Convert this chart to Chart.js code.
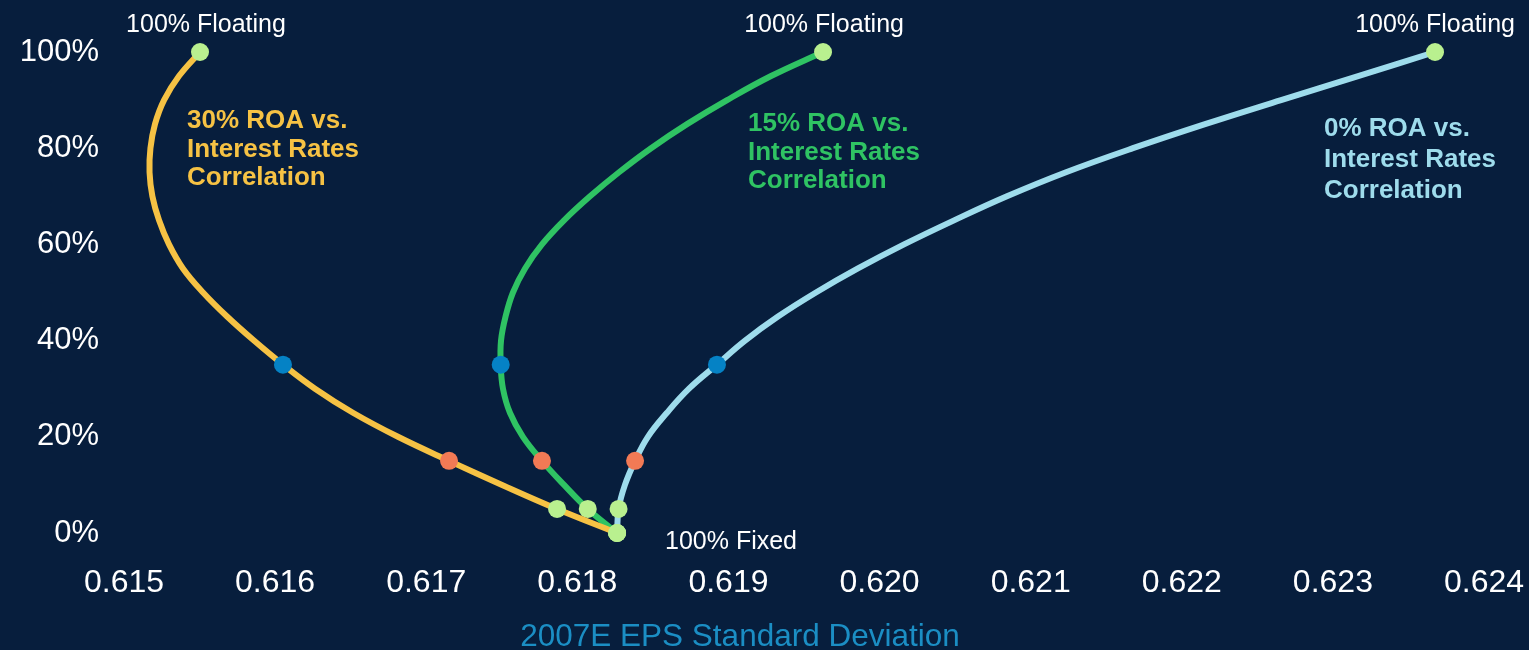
<!DOCTYPE html>
<html>
<head>
<meta charset="utf-8">
<script src="https://cdn.jsdelivr.net/npm/chart.js@4"></script>
<style>
  html, body { margin: 0; padding: 0; background: #071e3d; }
  #wrap { width: 1529px; height: 650px; position: relative; }
</style>
</head>
<body>
<div id="wrap"><canvas id="c"></canvas></div>
<script>
// Share of floating-rate debt (%)
const floatingPct = [100,95,90,85,80,75,70,65,60,55,50,45,40,35,30,25,20,15,10,5,0];
// 2007E EPS standard deviation per series
const eps30 = [0.615503,0.615364,0.615265,0.615205,0.615175,0.615169,0.615188,0.615232,0.615298,0.615390,0.615523,0.615682,0.615860,0.616052,0.616264,0.616515,0.616813,0.617151,0.617502,0.617866,0.618263];
const eps15 = [0.619626,0.619282,0.618991,0.618726,0.618488,0.618276,0.618084,0.617912,0.617766,0.617654,0.617574,0.617525,0.617495,0.617493,0.617508,0.617554,0.617640,0.617766,0.617912,0.618069,0.618263];
const eps0  = [0.623676,0.623167,0.622657,0.622154,0.621677,0.621234,0.620843,0.620493,0.620162,0.619857,0.619579,0.619328,0.619110,0.618924,0.618739,0.618593,0.618467,0.618382,0.618315,0.618273,0.618263];
const seriesNames = ['30% ROA vs. Interest Rates Correlation','15% ROA vs. Interest Rates Correlation','0% ROA vs. Interest Rates Correlation'];
const xTickLabels = ['0.615','0.616','0.617','0.618','0.619','0.620','0.621','0.622','0.623','0.624'];
const yTickLabels = ['0%','20%','40%','60%','80%','100%'];
const floatingLabel = '100% Floating';
const fixedLabel = '100% Fixed';
const xTitle = '2007E EPS Standard Deviation';

const COLORS = { yellow:'#f6c244', green:'#2fc363', light:'#9edcec', orange:'#f27a55', blue:'#0582c5', lime:'#b9f08f', title:'#1b8ec4' };
const FONT = "'Liberation Sans', Arial, sans-serif";

function pts(xs){ return xs.map((x,i)=>({x:x, y:floatingPct[i]})); }
function markerColor(ctx){
  const v = ctx.raw ? ctx.raw.y : null;
  if (v === 35) return COLORS.blue;
  if (v === 15) return COLORS.orange;
  return COLORS.lime;
}
function markerRadius(ctx){
  const v = ctx.raw ? ctx.raw.y : null;
  return [100,35,15,5,0].includes(v) ? 9 : 0;
}
function ds(label, xs, color){
  return {
    label, data: pts(xs), showLine: true, borderColor: color, borderWidth: 6,
    tension: 0.4, fill: false, clip: false,
    pointRadius: markerRadius, pointHoverRadius: markerRadius,
    pointBackgroundColor: markerColor, pointBorderWidth: 0
  };
}

const textPlugin = {
  id: 'texts',
  afterDraw(chart){
    const c = chart.ctx, xs = chart.scales.x;
    c.save();
    c.fillStyle = '#ffffff';
    c.font = '25px ' + FONT;
    c.textAlign = 'center';
    c.textBaseline = 'alphabetic';
    const shifts = [6, 1, 0];
    [eps30, eps15, eps0].forEach((arr, i) => {
      c.fillText(floatingLabel, xs.getPixelForValue(arr[0]) + shifts[i], 32);
    });
    c.textAlign = 'left';
    c.fillText(fixedLabel, 665, 549);

    c.font = 'bold 26px ' + FONT;
    const blocks = [
      {color: COLORS.yellow, x: 187, y: [128,157,185]},
      {color: COLORS.green, x: 748, y: [131,160,188]},
      {color: COLORS.light, x: 1324, y: [136,167,198]}
    ];
    blocks.forEach((b,i) => {
      c.fillStyle = b.color;
      const words = seriesNames[i];
      const lines = [words.split(' ').slice(0,3).join(' '), 'Interest Rates', 'Correlation'];
      lines.forEach((t,j) => c.fillText(t, b.x, b.y[j]));
    });

    c.fillStyle = COLORS.title;
    c.font = '31.5px ' + FONT;
    c.textAlign = 'center';
    c.fillText(xTitle, 740, 646);
    c.restore();
  }
};

new Chart(document.getElementById('c'), {
  type: 'scatter',
  data: { datasets: [ ds(seriesNames[0], eps30, COLORS.yellow), ds(seriesNames[1], eps15, COLORS.green), ds(seriesNames[2], eps0, COLORS.light) ] },
  options: {
    responsive: true, maintainAspectRatio: false, animation: false,
    layout: { autoPadding: false, padding: { top: 52, right: 45, left: 0, bottom: 0 } },
    plugins: { legend: { display: false }, tooltip: { enabled: false } },
    scales: {
      x: {
        type: 'linear', min: 0.615, max: 0.624,
        grid: { display: false, drawTicks: false }, border: { display: false },
        afterBuildTicks(s){ s.ticks = xTickLabels.map(t => ({ value: parseFloat(t) })); },
        ticks: { color: '#ffffff', font: { family: FONT, size: 32 }, padding: 31, maxRotation: 0, autoSkip: false,
                 callback: (v, i) => xTickLabels[i] },
        afterFit(s){ s.height = 117; s.paddingLeft = 0; s.paddingRight = 0; }
      },
      y: {
        min: 0, max: 100,
        grid: { display: false, drawTicks: false }, border: { display: false },
        afterBuildTicks(s){ s.ticks = yTickLabels.map(t => ({ value: parseFloat(t) })); },
        ticks: { color: '#ffffff', font: { family: FONT, size: 31 }, padding: 25,
                 callback: (v, i) => yTickLabels[i] },
        afterFit(s){ s.width = 124; s.paddingTop = 0; s.paddingBottom = 0; }
      }
    }
  },
  plugins: [textPlugin]
});
</script>
</body>
</html>
